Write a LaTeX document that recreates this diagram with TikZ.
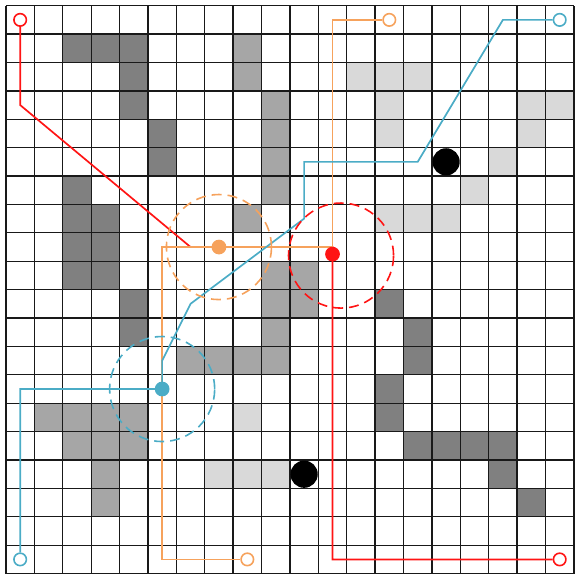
\documentclass[tikz,border=0pt]{standalone}
\usepackage{xcolor}
\usepackage{tikz}
\usetikzlibrary{positioning}
\definecolor{botred}{RGB}{255,20,20}
\definecolor{botorange}{RGB}{246,162,92}
\definecolor{botblue}{RGB}{75,172,198}
\definecolor{darkcell}{RGB}{128,128,128}
\definecolor{midcell}{RGB}{166,166,166}
\definecolor{lightcell}{RGB}{217,217,217}
\tikzset{
  gridline/.style={draw=black!90, line width=0.65pt},
  trackline/.style={line width=0.85pt, line join=miter},
  endmark/.style={circle, draw, fill=white, line width=0.8pt, inner sep=0pt, minimum size=0.22cm},
  botdot/.style={circle, inner sep=0pt, minimum size=0.26cm},
  rangering/.style={dash pattern=on 5pt off 3pt, line width=0.8pt},
  blocker/.style={circle, fill=black, inner sep=0pt, minimum size=0.48cm}
}

\begin{document}
\begin{tikzpicture}[x=0.5cm, y=0.5cm]
  \useasboundingbox (-0.21,0.2) rectangle (20.02,-20.12);
  % occupied cells
  \foreach \c/\r in {2/1,3/1,4/1,4/2,4/3,5/4,5/5,2/6,2/7,3/7,2/8,3/8,2/9,3/9,4/10,4/11,13/10,14/11,14/12,13/13,13/14,14/15,15/15,16/15,17/15,17/16,18/17}
    \fill[darkcell] (\c,-\r) rectangle ++(1,-1);
  \foreach \c/\r in {8/1,8/2,9/3,9/4,9/5,9/6,8/7,9/9,10/9,9/10,10/10,9/11,6/12,7/12,8/12,9/12,1/14,2/14,3/14,4/14,2/15,3/15,4/15,3/16,3/17}
    \fill[midcell] (\c,-\r) rectangle ++(1,-1);
  \foreach \c/\r in {12/2,13/2,14/2,13/3,13/4,18/3,19/3,18/4,17/5,16/6,13/7,14/7,15/7,8/14,7/16,8/16,9/16}
    \fill[lightcell] (\c,-\r) rectangle ++(1,-1);
  \draw[gridline, step=0.5cm] (0,0) grid (20,-20);

  % bends of the tracks
  \coordinate (r1) at (0.5,-3.5);
  \coordinate (r2) at (6.5,-8.5);
  \coordinate (r3) at (11.5,-8.5);
  \coordinate (r4) at (11.5,-19.5);
  \coordinate (o1) at (11.5,-0.5);
  \coordinate (o2) at (5.5,-8.5);
  \coordinate (o3) at (5.5,-19.5);
  \coordinate (b1) at (0.5,-13.5);
  \coordinate (b2) at (5.5,-12.5);
  \coordinate (b3) at (6.5,-10.5);
  \coordinate (b4) at (10.5,-7.5);
  \coordinate (b5) at (10.5,-5.5);
  \coordinate (b6) at (14.5,-5.5);
  \coordinate (b7) at (17.5,-0.5);

  \node[endmark, draw=botred] (redstart) at (0.5,-0.5) {};
  \node[endmark, draw=botred] (redgoal) at (19.5,-19.5) {};
  \node[endmark, draw=botorange] (orangestart) at (13.5,-0.5) {};
  \node[endmark, draw=botorange] (orangegoal) at (8.5,-19.5) {};
  \node[endmark, draw=botblue] (bluestart) at (19.5,-0.5) {};
  \node[endmark, draw=botblue] (bluegoal) at (0.5,-19.5) {};

  \draw[trackline, botred] (redstart) -- (r1) -- (r2) -- (r3) -- (r4) -- (redgoal);
  \draw[trackline, botorange] (orangestart) -- (o1) -- (r3) -- (o2) -- (o3) -- (orangegoal);

  % robots and their ranges
  \node[botdot, fill=botred] (redbot) at (11.5,-8.75) {};
  \node[botdot, fill=botorange] (orangebot) at (7.5,-8.5) {};
  \node[botdot, fill=botblue] (bluebot) at (5.5,-13.5) {};
  \draw[trackline, botblue] (bluegoal) -- (b1) -- (bluebot.center) -- (b2) -- (b3) -- (b4) -- (b5) -- (b6) -- (b7) -- (bluestart);
  \draw[rangering, botred] (11.8,-8.8) circle (1.85);
  \draw[rangering, botorange] (orangebot) circle (1.85);
  \draw[rangering, botblue] (bluebot) circle (1.85);

  \node[blocker] (blockerA) at (15.5,-5.5) {};
  \node[blocker] (blockerB) at (10.5,-16.5) {};
\end{tikzpicture}
\end{document}
